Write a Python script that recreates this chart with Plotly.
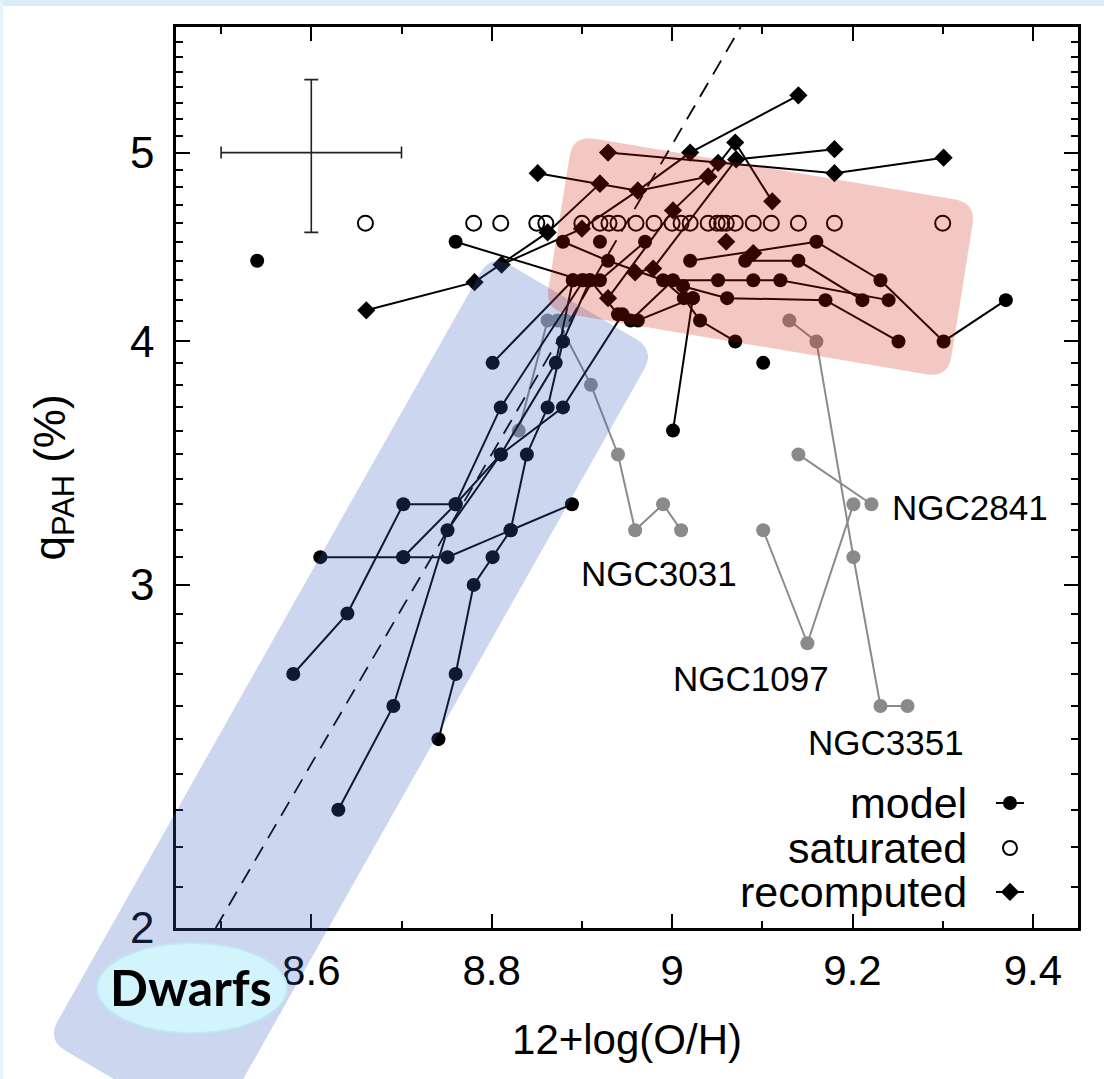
import math
import plotly.graph_objects as go

# ---------------- data (x = 12+log(O/H), q = q_PAH in %) ----------------
# model tracks (filled circles joined by lines)
m1_x = [8.580, 8.640, 8.702, 8.760, 8.810, 8.871, 8.890]
m1_q = [2.70, 2.90, 3.30, 3.30, 3.50, 3.90, 4.30]
m2_x = [8.610, 8.702, 8.760, 8.810, 8.902]
m2_q = [3.10, 3.10, 3.30, 3.70, 4.30]
m3_x = [8.702, 8.751, 8.821, 8.889]
m3_q = [3.10, 3.10, 3.20, 3.30]
m4_x = [8.741, 8.760, 8.780, 8.801, 8.821, 8.839, 8.862, 8.879, 8.909]
m4_q = [2.50, 2.70, 3.00, 3.10, 3.20, 3.50, 3.70, 4.00, 4.30]
m5_x = [8.630, 8.691, 8.751, 8.810, 8.879, 8.945]
m5_q = [2.30, 2.60, 3.20, 3.50, 3.70, 4.13]
m6_x = [8.801, 8.890]
m6_q = [3.90, 4.30]
m7_x = [8.760, 8.900]
m7_q = [4.50, 4.30]
m8_x = [8.879, 8.929, 8.990, 9.013, 9.031, 9.070]
m8_q = [4.50, 4.40, 4.30, 4.21, 4.10, 4.00]
m9_x = [8.970, 8.920]
m9_q = [4.50, 4.30]
m10_x = [8.909, 8.940, 8.962, 9.023]
m10_q = [4.30, 4.13, 4.10, 4.21]
m11_x = [8.954, 9.001, 9.051, 9.090, 9.120, 9.240]
m11_q = [4.10, 4.30, 4.30, 4.30, 4.30, 4.20]
m12_x = [9.012, 9.061, 9.170, 9.251]
m12_q = [4.27, 4.21, 4.20, 4.00]
m13_x = [9.020, 9.160, 9.231, 9.301, 9.370]
m13_q = [4.40, 4.50, 4.30, 4.00, 4.20]
m14_x = [9.081, 9.140, 9.211]
m14_q = [4.40, 4.40, 4.20]
m15_x = [9.001, 9.023]
m15_q = [3.60, 4.21]
model_single_x = [8.540, 8.920, 9.101]
model_single_q = [4.40, 4.50, 3.90]

# recomputed tracks (diamonds)
r1_x = [8.929, 9.051, 9.180, 9.301]
r1_q = [5.00, 4.94, 4.88, 4.97]
r2_x = [8.851, 8.920, 8.962, 9.040, 9.070, 9.111]
r2_q = [4.88, 4.82, 4.78, 4.86, 5.06, 4.72]
r3_x = [8.811, 8.900, 8.962, 9.020, 9.140]
r3_q = [4.38, 4.57, 4.78, 5.00, 5.35]
r4_x = [8.661, 8.781, 8.862, 8.920]
r4_q = [4.15, 4.29, 4.55, 4.82]
r5_x = [8.929, 9.001, 9.040]
r5_q = [4.21, 4.67, 4.86]
r6_x = [8.959, 8.979, 9.071, 9.180]
r6_q = [4.34, 4.36, 4.96, 5.02]
recomp_single_x = [9.060, 9.090]
recomp_single_q = [4.50, 4.44]

# saturated (open circles)
sat_x = [8.66, 8.78, 8.81, 8.85, 8.86, 8.90, 8.92, 8.93, 8.94, 8.96, 8.98, 9.00,
         9.01, 9.02, 9.04, 9.05, 9.055, 9.06, 9.07, 9.09, 9.11, 9.14, 9.18, 9.30]
sat_q = [4.6] * len(sat_x)

# grey galaxies
ngc3031_x = [8.873, 8.910, 8.940, 8.959, 8.990, 9.010]
ngc3031_q = [4.10, 3.80, 3.50, 3.20, 3.30, 3.20]
grey_a_x = [8.830, 8.862]
grey_a_q = [3.60, 4.10]
grey_single_x = [8.882]
grey_single_q = [4.10]
ngc2841_x = [9.140, 9.221]
ngc2841_q = [3.50, 3.30]
ngc1097_x = [9.101, 9.150, 9.201]
ngc1097_q = [3.20, 2.80, 3.30]
ngc3351_x = [9.130, 9.160, 9.201, 9.231, 9.261]
ngc3351_q = [4.10, 4.00, 3.10, 2.60, 2.60]

labels_text = ["NGC3031", "NGC1097", "NGC2841", "NGC3351"]
labels_x = [8.986, 9.087, 9.330, 9.237]
labels_q = [3.04, 2.687, 3.286, 2.489]

# fitted relation (dashed)
fit_x = [8.494, 9.076]
fit_q = [2.0, 5.8]

# typical error bar
err_x = [8.6]
err_q = [5.0]
err_dx = [0.1]
err_dq = [0.45]

x_ticks = [8.6, 8.8, 9.0, 9.2, 9.4]
x_ticktext = ["8.6", "8.8", "9", "9.2", "9.4"]
x_minor = [8.5, 8.7, 8.9, 9.1, 9.3]
y_ticks = [2, 3, 4, 5]
y_minor = [2.1, 2.2, 2.3, 2.4, 2.5, 2.6, 2.7, 2.8, 2.9,
           3.1, 3.2, 3.3, 3.4, 3.5, 3.6, 3.7, 3.8, 3.9,
           4.1, 4.2, 4.3, 4.4, 4.5, 4.6, 4.7, 4.8, 4.9,
           5.1, 5.2, 5.3, 5.4, 5.5, 5.6, 5.7]

# ---------------- figure ----------------
W, H = 1104, 1079
PL, PR, PT, PB = 176, 1078, 27, 928   # plot area in pixels
FONT = "Liberation Sans, Arial, Helvetica, sans-serif"
DOT = 14
DIA = 14

fig = go.Figure()

GREY = "#8a8a8a"
for gx, gq in [(grey_a_x, grey_a_q), (ngc3031_x, ngc3031_q), (ngc2841_x, ngc2841_q),
               (ngc1097_x, ngc1097_q), (ngc3351_x, ngc3351_q), (grey_single_x, grey_single_q)]:
    fig.add_trace(go.Scatter(x=gx, y=gq, mode="lines+markers",
                             line=dict(color=GREY, width=2),
                             marker=dict(symbol="circle", size=DOT, color=GREY),
                             showlegend=False, hoverinfo="skip"))

# dashed fit
fig.add_trace(go.Scatter(x=fit_x, y=fit_q, mode="lines",
                         line=dict(color="black", width=1.8, dash="16px,10px"),
                         showlegend=False, hoverinfo="skip"))

model_tracks = [(m1_x, m1_q), (m2_x, m2_q), (m3_x, m3_q), (m4_x, m4_q), (m5_x, m5_q),
                (m6_x, m6_q), (m7_x, m7_q), (m8_x, m8_q), (m9_x, m9_q), (m10_x, m10_q),
                (m11_x, m11_q), (m12_x, m12_q), (m13_x, m13_q), (m14_x, m14_q), (m15_x, m15_q),
                (model_single_x, model_single_q)]
for i, (mx, mq) in enumerate(model_tracks):
    single = (i == len(model_tracks) - 1)
    fig.add_trace(go.Scatter(x=mx, y=mq, mode="markers" if single else "lines+markers",
                             line=dict(color="black", width=2),
                             marker=dict(symbol="circle", size=DOT, color="black"),
                             showlegend=False, hoverinfo="skip"))

recomp_tracks = [(r1_x, r1_q), (r2_x, r2_q), (r3_x, r3_q), (r4_x, r4_q), (r5_x, r5_q),
                 (r6_x, r6_q), (recomp_single_x, recomp_single_q)]
for i, (rx, rq) in enumerate(recomp_tracks):
    single = (i == len(recomp_tracks) - 1)
    fig.add_trace(go.Scatter(x=rx, y=rq, mode="markers" if single else "lines+markers",
                             line=dict(color="black", width=2),
                             marker=dict(symbol="diamond", size=DIA, color="black"),
                             showlegend=False, hoverinfo="skip"))

fig.add_trace(go.Scatter(x=sat_x, y=sat_q, mode="markers",
                         marker=dict(symbol="circle-open", size=15, color="black",
                                     line=dict(width=2)),
                         showlegend=False, hoverinfo="skip"))

# typical error cross
fig.add_trace(go.Scatter(x=err_x, y=err_q, mode="markers",
                         marker=dict(size=1, color="rgba(0,0,0,0)"),
                         error_x=dict(type="data", array=err_dx, color="#222", thickness=1.6, width=6),
                         error_y=dict(type="data", array=err_dq, arrayminus=err_dq,
                                      color="#222", thickness=1.6, width=7),
                         showlegend=False, hoverinfo="skip"))

# legend keys on an auxiliary unit axis
key_rows = [0.1387, 0.0888, 0.0400]
key_cx, key_half = 0.9246, 0.0155
for row, sym in [(key_rows[0], "circle"), (key_rows[2], "diamond")]:
    fig.add_trace(go.Scatter(x=[key_cx - key_half, key_cx + key_half], y=[row, row],
                             xaxis="x2", yaxis="y2", mode="lines",
                             line=dict(color="black", width=2),
                             showlegend=False, hoverinfo="skip"))
    fig.add_trace(go.Scatter(x=[key_cx], y=[row], xaxis="x2", yaxis="y2", mode="markers",
                             marker=dict(symbol=sym, size=DOT, color="black"),
                             showlegend=False, hoverinfo="skip"))
fig.add_trace(go.Scatter(x=[key_cx], y=[key_rows[1]], xaxis="x2", yaxis="y2", mode="markers",
                         marker=dict(symbol="circle-open", size=14, color="black", line=dict(width=2)),
                         showlegend=False, hoverinfo="skip"))

annotations = []
for txt, ry in zip(["model", "saturated", "recomputed"], key_rows):
    annotations.append(dict(text=txt, xref="paper", yref="paper", x=0.879, y=ry,
                            xanchor="right", yanchor="middle", showarrow=False,
                            font=dict(family=FONT, size=43, color="black")))
for txt, lx, lq in zip(labels_text, labels_x, labels_q):
    annotations.append(dict(text=txt, x=lx, y=math.log10(lq), xref="x", yref="y",
                            showarrow=False, xanchor="center", yanchor="middle",
                            font=dict(family=FONT, size=35, color="black")))


# ---------------- overlay highlight shapes (pixel geometry -> paper) ----------------
def to_paper(px, py):
    return ((px - PL) / (PR - PL), (PB - py) / (PB - PT))


def rounded_path(corners, r):
    n = len(corners)
    parts = []
    for i in range(n):
        p0 = corners[i - 1]
        p1 = corners[i]
        p2 = corners[(i + 1) % n]
        d0 = math.hypot(p0[0] - p1[0], p0[1] - p1[1])
        d2 = math.hypot(p2[0] - p1[0], p2[1] - p1[1])
        a = (p1[0] + r * (p0[0] - p1[0]) / d0, p1[1] + r * (p0[1] - p1[1]) / d0)
        b = (p1[0] + r * (p2[0] - p1[0]) / d2, p1[1] + r * (p2[1] - p1[1]) / d2)
        A, P, B = to_paper(*a), to_paper(*p1), to_paper(*b)
        parts.append(("M" if i == 0 else "L") + f" {A[0]:.5f},{A[1]:.5f}")
        parts.append(f"Q {P[0]:.5f},{P[1]:.5f} {B[0]:.5f},{B[1]:.5f}")
    return " ".join(parts) + " Z"


shapes = []
# slide background strips
shapes.append(dict(type="rect", xref="paper", yref="paper",
                   x0=to_paper(0, 0)[0], x1=to_paper(W, 0)[0],
                   y0=to_paper(0, 6)[1], y1=to_paper(0, 0)[1],
                   fillcolor="#dcedfa", line=dict(width=0), layer="below"))
shapes.append(dict(type="rect", xref="paper", yref="paper",
                   x0=to_paper(0, 0)[0], x1=to_paper(3, 0)[0],
                   y0=to_paper(0, H)[1], y1=to_paper(0, 0)[1],
                   fillcolor="#e6f3fc", line=dict(width=0), layer="below"))
# blue "dwarfs" band
blue_corners = [(491, 254), (655, 350), (211, 1136), (47, 1040)]
shapes.append(dict(type="path", xref="paper", yref="paper", path=rounded_path(blue_corners, 22),
                   fillcolor="rgba(58,96,192,0.26)", line=dict(width=0), layer="above"))
# red high-metallicity box
red_corners = [(573, 135), (976, 203), (948, 378), (545, 310)]
shapes.append(dict(type="path", xref="paper", yref="paper", path=rounded_path(red_corners, 22),
                   fillcolor="rgba(205,25,0,0.24)", line=dict(width=0), layer="above"))
# Dwarfs ellipse
e0 = to_paper(97, 1033)
e1 = to_paper(287, 943)
shapes.append(dict(type="circle", xref="paper", yref="paper",
                   x0=e0[0], y0=e0[1], x1=e1[0], y1=e1[1],
                   fillcolor="#d2f4fc", line=dict(color="#bfe7f3", width=2), layer="above"))
dc = to_paper(191, 987)
annotations.append(dict(text="<b>Dwarfs</b>", xref="paper", yref="paper", x=dc[0], y=dc[1],
                        showarrow=False, xanchor="center", yanchor="middle",
                        font=dict(family="Lato, Carlito, sans-serif", size=50, color="black")))

axis_common = dict(showline=True, linewidth=2.5, linecolor="black", mirror="allticks",
                   ticks="inside", ticklen=14, tickwidth=2, tickcolor="black",
                   showgrid=False, zeroline=False)

fig.update_layout(
    width=W, height=H, autosize=False,
    margin=dict(l=PL, r=W - PR, t=PT, b=H - PB, pad=0),
    paper_bgcolor="white", plot_bgcolor="rgba(0,0,0,0)",
    xaxis=dict(range=[8.45, 9.45], tickvals=x_ticks, ticktext=x_ticktext,
               tickfont=dict(family=FONT, size=42, color="black"), ticklabelstandoff=4,
               minor=dict(tickvals=x_minor, ticks="inside", ticklen=7, tickwidth=2,
                          tickcolor="black", showgrid=False),
               title=dict(text="12+log(O/H)", font=dict(family=FONT, size=42, color="black"),
                          standoff=32),
               **axis_common),
    yaxis=dict(type="log", range=[math.log10(2.0), math.log10(5.8)], tickvals=y_ticks,
               ticktext=[str(v) for v in y_ticks],
               tickfont=dict(family=FONT, size=44, color="black"), ticklabelstandoff=10,
               minor=dict(tickvals=y_minor, ticks="inside", ticklen=7, tickwidth=2,
                          tickcolor="black", showgrid=False),
               title=dict(text="q<sub>PAH</sub> (%)", font=dict(family=FONT, size=44, color="black"),
                          standoff=51),
               **axis_common),
    xaxis2=dict(overlaying="x", range=[0, 1], visible=False, fixedrange=True),
    yaxis2=dict(overlaying="y", range=[0, 1], visible=False, fixedrange=True),
    shapes=shapes,
    annotations=annotations,
    showlegend=False,
)

fig.write_html("out.html")
